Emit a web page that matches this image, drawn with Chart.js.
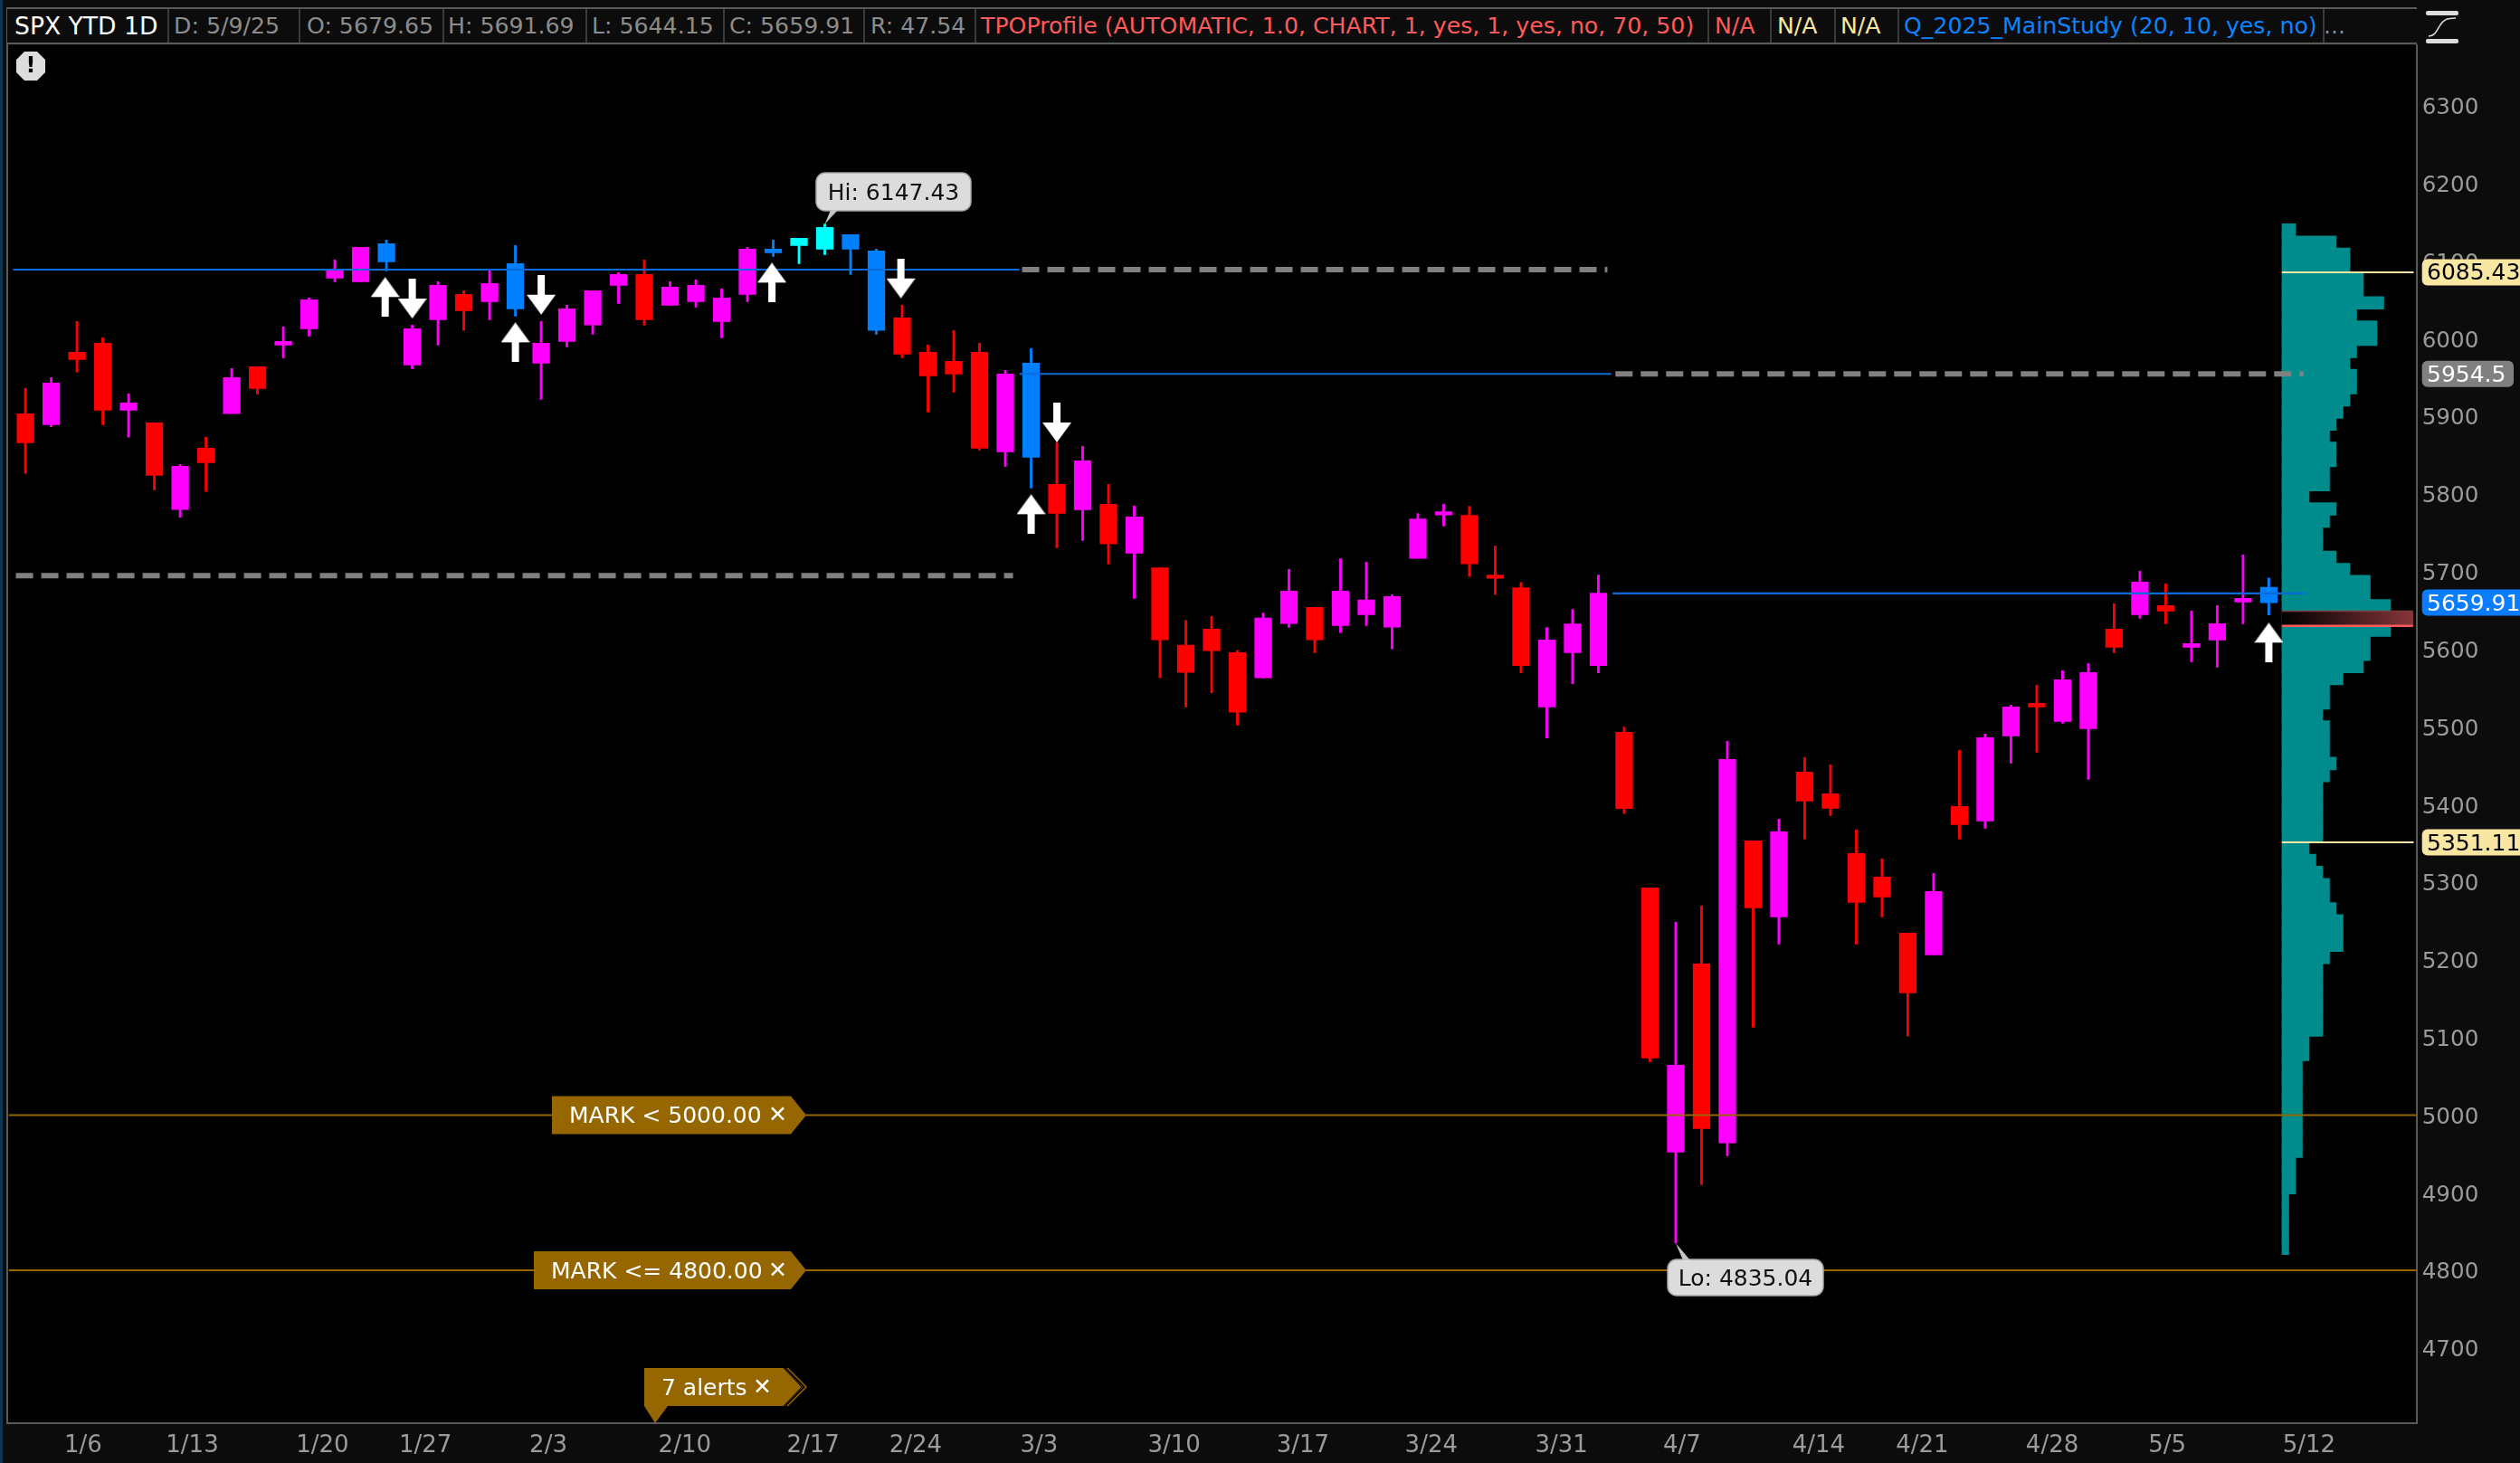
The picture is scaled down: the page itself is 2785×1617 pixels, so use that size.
<!DOCTYPE html>
<html>
<head>
<meta charset="utf-8">
<title>SPX YTD 1D</title>
<script src="https://cdn.jsdelivr.net/npm/chart.js@4"></script>
<style>
	html, body { margin: 0; padding: 0; background: #0c0c0c; overflow: hidden; }
	#wrap { position: relative; width: 2785px; height: 1617px; font-family: "DejaVu Sans", sans-serif; }
	canvas { position: absolute; left: 0; top: 0; }
	#topline { position: absolute; left: 8px; top: 8px; width: 2663px; height: 2px; background: #5a5a5a; }
	#head { position: absolute; left: 8px; top: 10px; width: 2663px; height: 37px; background: #0c0c0c; border-bottom: 2px solid #5a5a5a; }
	.cell { position: absolute; top: 0; height: 37px; line-height: 38px; font-size: 25.2px; white-space: nowrap; }
	.sep { position: absolute; top: 0; width: 2px; height: 37px; background: #3a3a3a; }
	#edge1 { position: absolute; left: 0; top: 0; width: 3px; height: 1617px; background: #0b3550; }
	#edge2 { position: absolute; left: 7px; top: 8px; width: 2px; height: 1566px; background: #5a5a5a; }
	#icon { position: absolute; left: 2678px; top: 10px; }
</style>
</head>
<body>
<div id="wrap">
	<canvas id="chart" width="2785" height="1617"></canvas>
	<div id="edge1"></div>
	<div id="edge2"></div>
	<div id="topline"></div>
	<div id="head"></div>
	<svg id="icon" width="44" height="40">
		<rect x="3" y="2" width="36" height="5" rx="2" fill="#ddd"></rect>
		<rect x="3" y="33" width="36" height="5" rx="2" fill="#ddd"></rect>
		<path d="M6 30 C 12 30, 14 26, 18 19 S 26 10, 36 10" fill="none" stroke="#ddd" stroke-width="1.5"></path>
	</svg>
</div>
<script>
	// one entry per trading day, 1/2/25 to 5/9/25
	var wickHigh = [5935.8,5949.8,6022,6001,5928.8,5891.5,5837.9,5872.9,5961.4,5963.8,6015,6052.3,6101.2,6117.6,6126.9,6017.4,6073.3,6061.6,6087.3,6119.9,6022,6043,6061.6,6084.9,
		6101.2,6073.3,6075.6,6064,6117.6,6126.9,6129.2,6147.43,6133.9,6115.2,6043,5991.7,6010.4,5994,5959.1,5987,5865.9,5861.2,5812.3,5784.3,
		5704.9,5637,5642,5598,5646.6,5702.8,5653.7,5716.5,5712,5670,5774.8,5786.5,5784,5732.8,5685.7,5627.9,5651.2,5695.3,
		5499.7,5292.6,5248.3,5269.2,5481.3,5353.1,5381.1,5460.3,5451,5367.1,5329.8,5234.3,5311.2,5469.7,5490.6,5527.9,5553.6,5572.2,5581.5,
		5658.4,5700.4,5684.1,5649.1,5656.1,5721.4,5691.69];
	var bodyHigh = [5903.2,5942.8,5982.4,5994,5917.1,5891.5,5835.6,5858.9,5949.8,5963.8,5996.4,6050,6087.3,6117.6,6122.2,6012.7,6068.6,6057,6070.9,6096.6,5994,6038.3,6061.6,6082.6,
		6082.6,6066.3,6068.6,6052.3,6115.2,6115.2,6129.2,6143.2,6133.9,6112.9,6026.7,5982.4,5970.7,5982.4,5954.4,5968.4,5812.3,5842.6,5786.6,5770.3,
		5704.9,5605,5625.8,5595.4,5640,5674.9,5653.7,5674.9,5663.3,5667.8,5767.7,5776.9,5772.3,5695.3,5679.1,5611.7,5632.5,5672,
		5493,5292.6,5064.2,5194.7,5458,5353.1,5364.8,5441.7,5413.7,5336.8,5306.5,5234.3,5287.9,5397.4,5486,5525.6,5530.2,5560.6,5569.9,
		5625.8,5686.4,5656.1,5607.2,5632.8,5665.4,5679.65];
	var bodyLow = [5865.9,5889.2,5973.1,5907.8,5907.8,5823.9,5779.7,5840.2,5903.2,5935.8,5991.7,6012.7,6077.9,6073.3,6098.9,5966.1,6024.3,6036,6047.6,6038.3,5968.4,5996.4,6017.4,6068.6,
		6024.3,6043,6047.6,6022,6057,6110.6,6119.9,6115.2,6115.2,6010.4,5980,5952.1,5954.4,5858.9,5854.2,5847.2,5775,5779.6,5735.4,5723.7,
		5612.1,5570,5598,5518.8,5563,5632.9,5612.1,5630.4,5644.5,5628.3,5717,5772.7,5709.9,5691.2,5578.8,5525.5,5595.4,5578.8,
		5394.8,5073.5,4952.3,4982.6,4964,5266.9,5255.3,5404.4,5395.1,5273.9,5280.9,5157.4,5206.3,5374.1,5378.8,5488.3,5525.6,5507,5497.6,
		5602.5,5644.5,5649.1,5602.5,5611.8,5660.8,5659.91];
	var wickLow = [5826.3,5886.5,5956.8,5889.2,5872.9,5805.3,5769.9,5803,5903.2,5928.8,5975.4,6003.4,6073.3,6073.3,6087.3,5961.4,5991.7,6010.4,6024.3,6029,5921.8,5989.4,6005.7,6045.3,
		6017.3,6043,6040.6,6001,6047.6,6105.9,6096.6,6108.2,6082.6,6005.7,5975.4,5905.5,5931.1,5856.5,5835.6,5807.6,5730.7,5740,5709.7,5665.3,
		5563,5525.5,5543.8,5502.2,5563,5627.9,5595.4,5621.2,5630.4,5600.4,5717,5758.6,5693.6,5670.3,5569.6,5485.5,5555.5,5569.6,
		5388.2,5068.8,4835.04,4910.3,4947.6,5113.1,5220.3,5355.5,5385.8,5220.3,5255.3,5101.5,5206.3,5355.5,5369.5,5453.3,5467.3,5504.6,5432.4,
		5595.5,5639.8,5632.8,5583.9,5576.9,5632.8,5644.15];
	var candleKind = "rmrrmrmrmrmmmmbmmrmbmmmm" + "rmmmmbccbbrrrrmbrmrm" + "rrrrmmrmmmmmrrrmmm" + "rrmrmrmrrrrrmrmmrmm" + "rmrmmmb";

	// TPO profile, count per price bin from the top of the range down
	var profilePrice = [6139.6,6124.0,6108.4,6092.8,6077.2,6061.6,6046.0,6030.4,6014.7,5999.1,5983.5,5967.9,5952.3,5936.7,5921.1,5905.5,5889.9,5874.3,5858.6,5843.0,5827.4,5811.8,5796.2,5780.6,5765.0,5749.4,5733.8,5718.2,5702.5,5686.9,5671.3,5655.7,5640.1,5624.5,5608.9,5593.3,5577.7,5562.1,5546.4,5530.8,5515.2,5499.6,5484.0,5468.4,5452.8,5437.2,5421.6,5406.0,5390.3,5374.7,5359.1,5343.5,5327.9,5312.3,5296.7,5281.1,5265.5,5249.9,5234.2,5218.6,5203.0,5187.4,5171.8,5156.2,5140.6,5125.0,5109.4,5093.8,5078.1,5062.5,5046.9,5031.3,5015.7,5000.1,4984.5,4968.9,4953.3,4937.7,4922.0,4906.4,4890.8,4875.2,4859.6,4844.0,4828.4];
	var profileCount = [2,8,10,10,12,12,15,11,14,14,11,10,11,11,10,9,8,7,8,8,7,7,4,8,7,6,6,8,10,13,13,16,16,16,13,13,12,9,7,7,6,7,7,7,8,7,6,6,6,6,6,4,5,6,7,7,8,9,9,9,7,6,6,6,6,6,6,4,4,3,3,3,3,3,3,3,3,2,2,2,1,1,1,1,1];

	var xTickPos = [2.24,6.47,11.52,15.51,20.28,25.57,30.55,34.52,39.31,44.55,49.54,54.52,59.57,64.24,69.54,73.56,78.6,83.06,88.56];
	var xTickLabels = ["1/6","1/13","1/20","1/27","2/3","2/10","2/17","2/24","3/3","3/10","3/17","3/24","3/31","4/7","4/14","4/21","4/28","5/5","5/12"];
	var yTicks = [4700,4800,4900,5000,5100,5200,5300,5400,5500,5600,5700,5800,5900,6000,6100,6200,6300];

	var upArrowBar = [13.95,19,28.95,39,87];
	var upArrowPrice = [6053.5,5995.2,6072.1,5773.8,5608.5];
	var downArrowBar = [15,20,33.95,40];
	var downArrowPrice = [6051.5,6056.5,6077.5,5892.0];

	var blueLevels = [6088.8,5954.5,5671.7];
	var blueFrom = [-0.48,38.55,61.55];
	var blueTo = [38.55,61.5,88.47];
	var dashLevels = [6088.8,5954.5,5694.6];
	var dashFrom = [38.65,61.66,-0.37];
	var dashTo = [61.35,88.35,38.3];
	var alertLevels = [5000,4800];
	var valueAreaLevels = [6085.43,5351.11];

	var headTexts = ["SPX YTD 1D","D: 5/9/25","O: 5679.65","H: 5691.69","L: 5644.15","C: 5659.91","R: 47.54","TPOProfile (AUTOMATIC, 1.0, CHART, 1, yes, 1, yes, no, 70, 50)","N/A","N/A","N/A","Q_2025_MainStudy (20, 10, yes, no)","..."];
	var headLefts = [16,192,339,495,654,806,962,1084,1895,1964,2034,2104,2568];
	var headColors = ["#fff","#8c8c8c","#8c8c8c","#8c8c8c","#8c8c8c","#8c8c8c","#8c8c8c","#ff5a5a","#ff5a5a","#f8e7a2","#f8e7a2","#0a84ff","#8c8c8c"];
	var headSeps = [185,330,489,647,799,954,1077,1887,1956,2027,2097,2567];

	var head = document.getElementById('head');
	headTexts.forEach(function(t, i){
		var d = document.createElement('div');
		d.className = 'cell';
		d.textContent = t;
		d.style.left = (headLefts[i] - 8) + 'px';
		d.style.color = headColors[i];
		if (i === 0){
			d.style.fontSize = '26.6px';
		}
		head.appendChild(d);
	});
	headSeps.forEach(function(x){
		var d = document.createElement('div');
		d.className = 'sep';
		d.style.left = (x - 8) + 'px';
		head.appendChild(d);
	});

	var kindColors = { r: '#ff0000', m: '#ff00ff', b: '#007fff', c: '#00ffff' };
	var barColors = candleKind.split('').map(function(k){ return kindColors[k]; });

	function arrowImage(up){
		var c = document.createElement('canvas');
		c.width = 32;
		c.height = 44;
		var g = c.getContext('2d');
		if (!up){
			g.translate(0, 44);
			g.scale(1, -1);
		}
		g.fillStyle = '#fff';
		g.beginPath();
		g.moveTo(16, 0);
		g.lineTo(32, 22);
		g.lineTo(20, 22);
		g.lineTo(20, 44);
		g.lineTo(12, 44);
		g.lineTo(12, 22);
		g.lineTo(0, 22);
		g.closePath();
		g.fill();
		return c;
	}

	function levelLine(level, from, to, color, width, order, extra){
		return Object.assign({
			type: 'line',
			data: [{ x: from, y: level }, { x: to, y: level }],
			borderColor: color,
			borderWidth: width,
			pointRadius: 0,
			fill: false,
			order: order
		}, extra || {});
	}

	var datasets = [];

	datasets.push({
		type: 'bar',
		indexAxis: 'y',
		xAxisID: 'xp',
		data: profilePrice.map(function(p, i){ return { x: [0, profileCount[i]], y: p }; }),
		backgroundColor: '#008c8c',
		barThickness: 14,
		grouped: false,
		order: 20
	});
	// red band at the point of control
	var bandGradient = document.getElementById('chart').getContext('2d').createLinearGradient(2522, 0, 2667, 0);
	bandGradient.addColorStop(0, '#000');
	bandGradient.addColorStop(1, '#86353a');
	datasets.push({
		type: 'bar',
		indexAxis: 'y',
		xAxisID: 'xp',
		data: [{ x: [0, 19.3], y: 5639.5 }],
		backgroundColor: bandGradient,
		barThickness: 16,
		grouped: false,
		order: 19
	});
	datasets.push(levelLine(5648.9, 0, 19.3, '#7d3c3c', 1.5, 18, { xAxisID: 'xp' }));
	datasets.push(levelLine(5630.1, 0, 19.3, '#ff5a5a', 2.5, 18, { xAxisID: 'xp' }));

	datasets.push({
		type: 'bar',
		data: wickHigh.map(function(v, i){ return { x: i, y: [wickLow[i], v] }; }),
		backgroundColor: barColors,
		barThickness: 2.2,
		grouped: false,
		order: 12
	});
	datasets.push({
		type: 'bar',
		data: bodyHigh.map(function(v, i){ return { x: i, y: [bodyLow[i], v] }; }),
		backgroundColor: barColors,
		barThickness: 18.6,
		grouped: false,
		order: 11
	});

	blueLevels.forEach(function(v, i){
		datasets.push(levelLine(v, blueFrom[i], blueTo[i], '#0b6bd6', 2.2, 6));
	});
	dashLevels.forEach(function(v, i){
		datasets.push(levelLine(v, dashFrom[i], dashTo[i], '#808080', 6, 6, { borderDash: [19, 9] }));
	});
	alertLevels.forEach(function(v){
		datasets.push(levelLine(v, -0.653, 92.73, '#966700', 2, 5));
	});
	valueAreaLevels.forEach(function(v){
		datasets.push(levelLine(v, 0, 19.4, '#f8e7a2', 2, 5, { xAxisID: 'xp' }));
	});

	datasets.push({
		type: 'scatter',
		data: upArrowBar.map(function(x, i){ return { x: x, y: upArrowPrice[i] }; }),
		pointStyle: arrowImage(true),
		order: 1
	});
	datasets.push({
		type: 'scatter',
		data: downArrowBar.map(function(x, i){ return { x: x, y: downArrowPrice[i] }; }),
		pointStyle: arrowImage(false),
		order: 1
	});

	function flag(g, left, right, tip, cy, text, closeX){
		g.fillStyle = '#966700';
		g.beginPath();
		g.moveTo(left, cy - 21);
		g.lineTo(right, cy - 21);
		g.lineTo(tip, cy);
		g.lineTo(right, cy + 21);
		g.lineTo(left, cy + 21);
		g.closePath();
		g.fill();
		g.fillStyle = '#fff';
		g.font = '25px "DejaVu Sans"';
		g.textAlign = 'left';
		g.textBaseline = 'middle';
		g.fillText(text, left + 19, cy + 2);
		g.font = 'bold 25px "DejaVu Sans"';
		g.fillText('\u2715', closeX, cy + 1);
	}

	function callout(g, left, top, w, h, tipX, tipY, baseX, text){
		g.fillStyle = '#dcdcdc';
		g.strokeStyle = '#a8a8a8';
		g.lineWidth = 1.5;
		g.beginPath();
		g.roundRect(left, top, w, h, 10);
		g.fill();
		g.stroke();
		var edge = tipY > top ? top + h - 1 : top + 1;
		g.fillStyle = '#c4c4c4';
		g.beginPath();
		g.moveTo(baseX, edge);
		g.lineTo(tipX, tipY);
		g.lineTo(baseX + 8, edge);
		g.closePath();
		g.fill();
		g.fillStyle = '#111';
		g.font = '25px "DejaVu Sans"';
		g.textAlign = 'center';
		g.textBaseline = 'middle';
		g.fillText(text, left + w / 2, top + h / 2 + 2);
	}

	function priceTag(g, y, text, bg, fg, right){
		g.fillStyle = bg;
		g.beginPath();
		g.roundRect(2676.7, y - 14.5, right - 2676.7, 29, 6);
		g.fill();
		g.fillStyle = fg;
		g.font = '25px "DejaVu Sans"';
		g.textAlign = 'left';
		g.textBaseline = 'middle';
		g.fillText(text, 2682, y + 2);
	}

	var annotations = {
		id: 'annotations',
		beforeDraw: function(chart){
			var g = chart.ctx, a = chart.chartArea;
			g.save();
			g.fillStyle = '#000';
			g.fillRect(a.left, a.top, a.right - a.left, a.bottom - a.top);
			g.restore();
		},
		afterDraw: function(chart){
			var g = chart.ctx, x = chart.scales.x, y = chart.scales.y, a = chart.chartArea;
			g.save();

			// alert icon
			g.fillStyle = '#ddd';
			g.beginPath();
			[[-7,-16],[7,-16],[16,-7],[16,7],[7,16],[-7,16],[-16,7],[-16,-7]].forEach(function(p){
				g.lineTo(34 + p[0], 73 + p[1]);
			});
			g.closePath();
			g.fill();
			g.fillStyle = '#000';
			g.font = 'bold 24px "DejaVu Sans"';
			g.textAlign = 'center';
			g.textBaseline = 'middle';
			g.fillText('!', 34, 74);

			flag(g, 610, 874, 891, y.getPixelForValue(5000), 'MARK < 5000.00', 849);
			flag(g, 590, 874, 891, y.getPixelForValue(4800), 'MARK <= 4800.00', 849);

			// 7 alerts flag, pointing at the time axis
			g.fillStyle = '#966700';
			g.beginPath();
			g.moveTo(712, 1512);
			g.lineTo(867, 1512);
			g.lineTo(887, 1533);
			g.lineTo(867, 1554);
			g.lineTo(738, 1554);
			g.lineTo(724, a.bottom);
			g.lineTo(712, 1554);
			g.closePath();
			g.fill();
			g.strokeStyle = '#000';
			g.lineWidth = 1;
			[0, 4].forEach(function(d){
				g.beginPath();
				g.moveTo(866 + d, 1512);
				g.lineTo(886 + d, 1533);
				g.lineTo(866 + d, 1554);
				g.stroke();
			});
			g.strokeStyle = '#966700';
			g.lineWidth = 1.5;
			g.beginPath();
			g.moveTo(870, 1512);
			g.lineTo(891, 1533);
			g.lineTo(870, 1554);
			g.stroke();
			g.fillStyle = '#fff';
			g.font = '25px "DejaVu Sans"';
			g.textAlign = 'left';
			g.textBaseline = 'middle';
			g.fillText('7 alerts', 731, 1535);
			g.font = 'bold 25px "DejaVu Sans"';
			g.fillText('\u2715', 832, 1534);

			callout(g, 902, 191, 171, 42, x.getPixelForValue(31), y.getPixelForValue(6147.43), 918, 'Hi: 6147.43');
			callout(g, 1843, 1392, 172, 40, x.getPixelForValue(64), y.getPixelForValue(4835.04), 1860, 'Lo: 4835.04');

			priceTag(g, y.getPixelForValue(6085.43), '6085.43', '#f8e7a2', '#000', 2800);
			priceTag(g, y.getPixelForValue(5954.5), '5954.5', '#808080', '#fff', 2778);
			priceTag(g, y.getPixelForValue(5659.91), '5659.91', '#0a7cff', '#fff', 2800);
			priceTag(g, y.getPixelForValue(5351.11), '5351.11', '#f8e7a2', '#000', 2800);
			g.restore();
		}
	};

	var chart = new Chart(document.getElementById('chart').getContext('2d'), {
		type: 'bar',
		data: { datasets: datasets },
		plugins: [annotations],
		options: {
			responsive: false,
			animation: false,
			devicePixelRatio: 1,
			events: [],
			layout: { padding: { left: 9.5, top: 50, right: 0, bottom: 0 } },
			plugins: { legend: { display: false }, tooltip: { enabled: false } },
			scales: {
				x: {
					type: 'linear',
					offset: false,
					min: -0.653,
					max: 92.73,
					grid: { display: false, offset: false },
					border: { color: '#5a5a5a', width: 2 },
					afterBuildTicks: function(axis){
						axis.ticks = xTickPos.map(function(v){ return { value: v }; });
					},
					afterFit: function(axis){ axis.height = 44; },
					ticks: {
						autoSkip: false,
						maxRotation: 0,
						color: '#9b9b9b',
						padding: 2,
						font: { family: '"DejaVu Sans"', size: 26 },
						callback: function(v, i){ return xTickLabels[i]; }
					}
				},
				xp: {
					type: 'linear',
					axis: 'x',
					display: false,
					min: -334.93,
					max: 19.83,
					offset: false,
					grid: { display: false }
				},
				y: {
					type: 'linear',
					position: 'right',
					offset: false,
					min: 4603.1,
					max: 6377.8,
					grid: { display: false, drawTicks: false, offset: false },
					border: { color: '#5a5a5a', width: 2 },
					afterBuildTicks: function(axis){
						axis.ticks = yTicks.map(function(v){ return { value: v }; });
					},
					afterFit: function(axis){ axis.width = 114.3; },
					ticks: {
						autoSkip: false,
						color: '#9b9b9b',
						padding: 6,
						labelOffset: 3,
						font: { family: '"DejaVu Sans"', size: 24.6 },
						callback: function(v){ return String(v); }
					}
				}
			}
		}
	});
</script>
</body>
</html>
